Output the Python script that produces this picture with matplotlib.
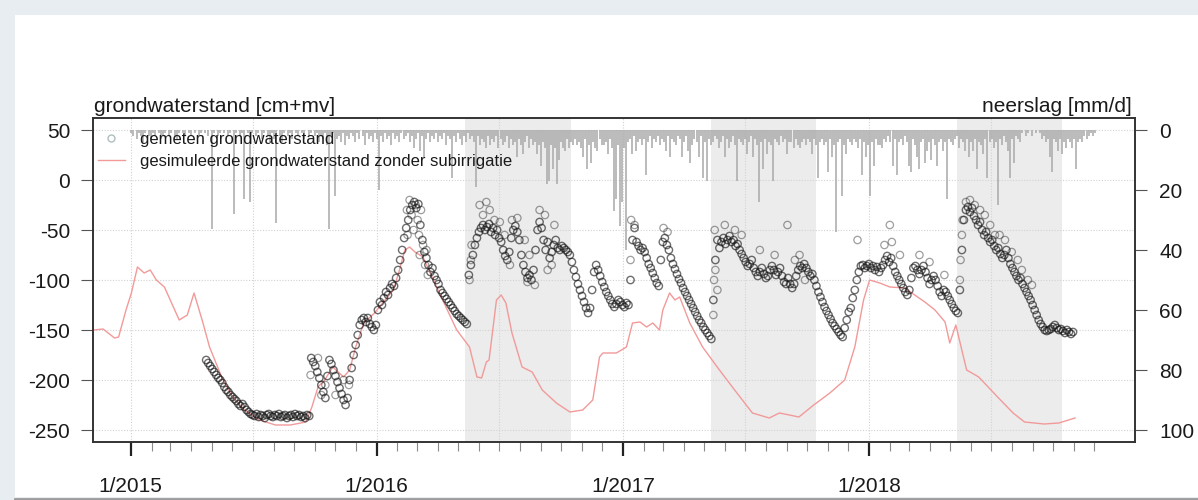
import matplotlib
matplotlib.use('Agg')
import matplotlib.pyplot as plt
import pandas as pd
from matplotlib.patches import Rectangle
from matplotlib.lines import Line2D

plt.rcParams['font.family'] = ['Liberation Sans', 'DejaVu Sans']
plt.rcParams['axes.unicode_minus'] = False

# ---------------- data ----------------
# simulated groundwater level without subirrigation (cm + mv)
sim_dates = ["2014-11-07", "2014-11-21", "2014-12-08", "2014-12-14", "2014-12-25",
             "2015-01-02", "2015-01-11", "2015-01-21", "2015-01-30", "2015-02-08",
             "2015-02-20", "2015-02-24", "2015-03-14", "2015-03-26", "2015-04-05",
             "2015-04-17", "2015-04-28", "2015-05-16", "2015-06-01", "2015-06-19",
             "2015-07-11", "2015-08-04", "2015-08-26", "2015-09-18", "2015-09-27",
             "2015-10-06", "2015-10-16", "2015-10-28", "2015-11-13", "2015-11-22",
             "2015-12-01", "2015-12-13", "2015-12-29", "2016-01-10", "2016-01-26",
             "2016-02-04", "2016-02-12", "2016-02-19", "2016-02-27", "2016-03-10",
             "2016-03-30", "2016-04-29", "2016-05-18", "2016-05-29", "2016-06-05",
             "2016-06-12", "2016-06-16", "2016-06-27", "2016-07-04", "2016-07-11",
             "2016-07-20", "2016-08-04", "2016-08-19", "2016-09-03", "2016-09-24",
             "2016-10-14", "2016-11-02", "2016-11-17", "2016-11-27", "2016-12-02",
             "2016-12-22", "2017-01-06", "2017-01-15", "2017-01-26", "2017-02-05",
             "2017-02-14", "2017-02-24", "2017-03-01", "2017-03-11", "2017-03-19",
             "2017-03-26", "2017-04-10", "2017-04-29", "2017-05-24", "2017-06-19",
             "2017-07-12", "2017-08-06", "2017-08-21", "2017-09-05", "2017-09-19",
             "2017-10-11", "2017-11-04", "2017-11-26", "2017-12-11", "2017-12-24",
             "2018-01-02", "2018-01-17", "2018-02-01", "2018-02-23", "2018-03-10",
             "2018-03-25", "2018-04-09", "2018-04-24", "2018-05-01", "2018-05-10",
             "2018-05-26", "2018-06-13", "2018-07-11", "2018-08-03", "2018-08-20",
             "2018-09-18", "2018-10-10", "2018-11-03"]
sim_values = [-150, -149, -158, -157, -130, -113, -87, -93, -90, -100,
              -107, -113, -140, -135, -113, -140, -167, -197, -217, -230,
              -240, -245, -245, -242, -227, -207, -200, -187, -197, -190,
              -167, -143, -133, -123, -110, -90, -70, -67, -72, -77,
              -107, -150, -167, -197, -198, -182, -180, -120, -115, -123,
              -153, -187, -192, -210, -223, -232, -230, -220, -177, -173,
              -173, -167, -143, -142, -147, -143, -150, -130, -113, -120,
              -117, -143, -167, -190, -213, -233, -238, -233, -235, -237,
              -225, -213, -200, -167, -120, -100, -103, -107, -108, -115,
              -122, -130, -142, -163, -145, -190, -197, -217, -233, -242,
              -244, -243, -238]

# measured groundwater level, one reading every 3 days per period
meas_step_days = 3
meas_a_start = "2015-04-23"
meas_a = [-180, -183, -186, -189, -192, -195, -198, -200, -203, -207,
          -210, -212, -215, -217, -219, -221, -224, -226, -224, -227,
          -230, -232, -234, -235, -236, -234, -237, -235, -236, -238,
          -235, -234, -236, -237, -235, -236, -234, -237, -236, -235,
          -238, -236, -235, -237, -234, -236, -235, -237, -236, -238,
          -235, -236]
meas_b_start = "2015-09-26"
meas_b = [-178, -182, -186, -192, -198, -205, -212, -218, -196, -180,
          -184, -190, -196, -202, -208, -214, -220, -225, -218, -200,
          -188, -175, -165, -155, -145, -140, -138, -142, -138, -144,
          -147, -150, -145, -130, -122, -125, -118, -112, -115, -108,
          -104, -106, -98, -90, -80, -70, -58, -48, -40, -30,
          -25, -22, -28, -24, -45, -60, -72, -78, -85, -92,
          -88, -96, -100, -104, -110, -113, -116, -119, -122, -125,
          -128, -131, -134, -136, -138, -140, -142, -144]
meas_c_start = "2016-05-17"
meas_c = [-95, -85, -75, -65, -58, -52, -48, -45, -50, -47,
          -44, -52, -48, -55, -50, -58, -62, -70, -76, -80,
          -72, -58, -50, -46, -52, -60, -75, -85, -92, -98,
          -95, -100, -90, -70, -50, -42, -48, -60, -70, -62,
          -78, -72, -65, -60, -68, -70, -66, -68, -70, -72,
          -75, -82, -90, -97, -104, -110, -116, -122, -128, -133,
          -128, -110, -92, -85, -90, -96, -102, -107, -112, -116,
          -120, -124, -127, -124, -120, -122, -125, -127, -123, -125]
meas_d_start = "2017-01-12"
meas_d = [-100, -60, -48, -62, -66, -70, -68, -72, -78, -84,
          -88, -93, -98, -103, -106, -80, -62, -58, -65, -70,
          -78, -84, -89, -94, -99, -103, -108, -112, -116, -120,
          -124, -128, -132, -136, -140, -143, -147, -150, -153, -156,
          -159]
meas_e_start = "2017-05-15"
meas_e = [-120, -80, -60, -68, -62, -58, -64, -60, -56, -62,
          -60, -66, -64, -70, -74, -78, -82, -86, -84, -80,
          -88, -92, -96, -92, -88, -94, -98, -96, -90, -86,
          -90, -95, -92, -88, -96, -102, -104, -98, -104, -108,
          -104, -96, -90, -86, -88, -84, -88, -92, -96, -94,
          -100, -106, -112, -117, -122, -127, -131, -135, -139, -143,
          -146, -149, -152, -155, -157, -148, -140, -132, -128, -118,
          -110, -100, -92, -86, -85, -88]
meas_f_start = "2017-12-29"
meas_f = [-86, -84, -88, -86, -90, -87, -92, -88, -85, -80,
          -76, -82, -78, -86, -92, -96, -100, -104, -108, -112,
          -115, -110, -98, -88, -86, -90, -94, -90, -86, -92,
          -98, -104, -100, -96, -100, -106, -112, -116, -110, -112,
          -116, -120, -124, -128, -131, -133]
meas_g_start = "2018-05-16"
meas_g = [-110, -70, -40, -30, -27, -32, -28, -36, -40, -45,
          -42, -50, -55, -52, -58, -62, -60, -66, -70, -68,
          -74, -78, -75, -70, -78, -84, -88, -92, -96, -100,
          -98, -104, -108, -112, -116, -120, -125, -130, -135, -140,
          -144, -147, -150, -151, -150, -149, -147, -145, -148, -150,
          -149, -151, -153, -150, -152, -154, -152]

# additional scattered measured readings
extra_dates = ["2016-02-15", "2016-02-16", "2016-02-19", "2016-02-22", "2016-02-25",
               "2016-02-28", "2016-03-02", "2016-03-04", "2016-03-05", "2016-03-07",
               "2016-03-10", "2016-03-13", "2016-03-15", "2016-03-17",
               "2015-09-25", "2015-10-06", "2015-10-11", "2015-10-17", "2015-11-01",
               "2015-11-13", "2015-11-21",
               "2016-05-18", "2016-05-20", "2016-05-21", "2016-06-02", "2016-06-07",
               "2016-06-12", "2016-06-17", "2016-06-24", "2016-07-02", "2016-07-09",
               "2016-07-17", "2016-07-20", "2016-07-28", "2016-08-08", "2016-08-12",
               "2016-08-15", "2016-08-23", "2016-08-30", "2016-09-07", "2016-09-11",
               "2016-09-17", "2016-09-21",
               "2017-01-12", "2017-01-13", "2017-01-18", "2017-03-02", "2017-03-08",
               "2017-05-15", "2017-05-16", "2017-05-17", "2017-05-18", "2017-05-21",
               "2017-06-01", "2017-06-16", "2017-06-26", "2017-07-23", "2017-08-14",
               "2017-09-02", "2017-09-13", "2017-09-20", "2017-09-28",
               "2017-12-15", "2018-01-24", "2018-02-01", "2018-02-04", "2018-02-16",
               "2018-03-17", "2018-04-01", "2018-04-23",
               "2018-05-16", "2018-05-17", "2018-05-19", "2018-05-20", "2018-05-25",
               "2018-05-31", "2018-06-07", "2018-06-15", "2018-06-22", "2018-06-30",
               "2018-07-07", "2018-07-14", "2018-07-22", "2018-08-01", "2018-08-10",
               "2018-08-16", "2018-08-25", "2018-08-31"]
extra_values = [-30, -55, -20, -35, -50,
                -25, -40, -55, -75, -30,
                -65, -85, -70, -95,
                -195, -178, -215, -205, -215,
                -200, -205,
                -100, -80, -65, -25, -35,
                -22, -30, -40, -42, -55,
                -85, -40, -38, -60, -102,
                -75, -105, -30, -35, -90,
                -85, -45,
                -80, -40, -45, -48, -52,
                -135, -100, -50, -90, -110,
                -45, -50, -55, -70, -75,
                -45, -80, -75, -100,
                -60, -65, -45, -62, -75,
                -75, -82, -95,
                -100, -80, -55, -40, -22,
                -20, -25, -30, -35, -45,
                -55, -55, -60, -72, -80,
                -90, -100, -105]

# precipitation (mm/d), one value every 3 days starting 2015-01-01
precip_start = "2015-01-01"
precip_step_days = 3
precip_2015 = [1, 2, 0, 3, 1, 2, 4, 1, 0, 2,
               3, 1, 2, 0, 1, 3, 2, 1, 0, 2,
               1, 0, 2, 3, 1, 0, 1, 2, 0, 1,
               2, 0, 1, 0, 2, 1, 0, 1, 2, 0,
               33, 1, 0, 2, 1, 0, 1, 0, 2, 1,
               0, 28, 1, 0, 2, 1, 23, 0, 1, 24,
               1, 0, 2, 1, 0, 3, 1, 0, 2, 4,
               1, 3, 31, 0, 2, 4, 1, 0, 2, 1,
               3, 0, 1, 2, 0, 1, 3, 0, 2, 1,
               0, 2, 1, 4, 2, 3, 1, 5, 33, 2,
               1, 22, 3, 2, 4, 1, 5, 2, 3, 1,
               2, 4, 1, 3, 0, 2, 5, 1, 3, 2,
               4, 1]
precip_2016 = [3, 20, 2, 4, 1, 3, 2, 5, 1, 3,
               2, 4, 1, 3, 2, 1, 4, 2, 6, 3,
               1, 7, 2, 9, 3, 1, 4, 2, 3, 1,
               4, 2, 3, 1, 5, 2, 3, 16, 2, 4,
               1, 3, 5, 2, 4, 1, 3, 2, 4, 19,
               2, 5, 3, 4, 6, 2, 5, 3, 4, 2,
               6, 3, 5, 4, 2, 6, 3, 5, 4, 9,
               3, 5, 8, 4, 2, 6, 3, 5, 4, 8,
               5, 12, 4, 6, 18, 17, 5, 13, 6, 18,
               10, 4, 6, 7, 3, 6, 4, 5, 3, 5,
               4, 6, 9, 3, 13, 5, 11, 4, 6, 7,
               3, 5, 5, 4, 8, 3, 6, 27, 23, 5,
               32, 24]
precip_2017 = [6, 40, 4, 3, 8, 2, 7, 4, 3, 5,
               3, 15, 4, 2, 6, 3, 4, 2, 5, 3,
               4, 7, 2, 9, 3, 4, 5, 2, 3, 9,
               4, 2, 7, 11, 5, 3, 4, 9, 2, 16,
               4, 17, 3, 5, 4, 2, 3, 6, 4, 2,
               9, 3, 6, 4, 2, 5, 17, 3, 4, 5,
               3, 8, 4, 2, 9, 3, 5, 24, 4, 13,
               3, 8, 4, 5, 17, 3, 4, 5, 2, 4,
               3, 8, 4, 4, 6, 3, 5, 6, 4, 3,
               5, 3, 4, 8, 3, 5, 16, 4, 3, 5,
               4, 14, 3, 9, 5, 34, 4, 3, 22, 5,
               8, 3, 4, 5, 3, 4, 6, 3, 15, 4,
               9, 5]
precip_2018 = [22, 4, 12, 3, 5, 5, 6, 3, 4, 2,
               4, 12, 3, 15, 4, 3, 5, 2, 4, 12,
               14, 3, 5, 9, 13, 4, 3, 11, 7, 4,
               10, 3, 5, 12, 4, 3, 7, 4, 23, 3,
               4, 5, 3, 2, 6, 3, 4, 7, 3, 9,
               4, 7, 3, 13, 4, 5, 8, 3, 16, 4,
               3, 6, 4, 25, 3, 5, 2, 4, 7, 16,
               3, 11, 2, 3, 4, 1, 0, 2, 1, 0,
               2, 0, 1, 0, 1, 3, 2, 4, 3, 9,
               14, 3, 4, 7, 3, 8, 4, 6, 3, 4,
               6, 3, 13, 4, 3, 4, 2, 3, 2, 1,
               2, 1]

# subirrigation periods (shaded)
irr_start = ["2016-05-12", "2017-05-12", "2018-05-12"]
irr_end = ["2016-10-15", "2017-10-15", "2018-10-15"]

# axis ticks
year_ticks = ["2015-01-01", "2016-01-01", "2017-01-01", "2018-01-01"]
year_labels = ["1/2015", "1/2016", "1/2017", "1/2018"]
month_first = "2015-01-01"
month_last = "2018-12-01"
vgrid_dates = ["2015-01-01", "2015-07-01", "2016-01-01", "2016-07-01",
               "2017-01-01", "2017-07-01", "2018-01-01", "2018-07-01"]
gw_ticks = [-250, -200, -150, -100, -50, 0, 50]
pr_ticks = [0, 20, 40, 60, 80, 100]

legend_labels = ["gemeten grondwaterstand",
                 "gesimuleerde grondwaterstand zonder subirrigatie"]

# ---------------- figure ----------------
W, H = 1198, 500
fig = plt.figure(figsize=(W / 100, H / 100), dpi=100, facecolor='#e8edf1')
fig.patches.append(Rectangle((15 / W, 3 / H), 1 - 15 / W, 1 - 3 / H - 15 / H,
                             transform=fig.transFigure, facecolor='white',
                             edgecolor='none', zorder=-10))
fig.add_artist(Line2D([15 / W, 1], [1.5 / H, 1.5 / H], transform=fig.transFigure,
                      color='#9a9a9a', lw=2))

ax = fig.add_axes([93 / W, 1 - 442 / H, (1135 - 93) / W, (442 - 118) / H])
ax.set_facecolor('white')

# shaded subirrigation periods
for s, e in zip(irr_start, irr_end):
    ax.axvspan(pd.Timestamp(s), pd.Timestamp(e), color='#ececec', lw=0, zorder=0)

# grid
for g in gw_ticks:
    ax.axhline(g, color='#d2d2d2', lw=0.8, ls=(0, (1, 1.5)), zorder=0.5)
for d in vgrid_dates:
    ax.axvline(pd.Timestamp(d), color='#d2d2d2', lw=0.8, ls=(0, (1, 1.5)), zorder=0.5)

# simulated line
ax.plot(pd.to_datetime(sim_dates), sim_values, color='#f29a9a', lw=1.0, zorder=2)

# measured points
periods = [(meas_a_start, meas_a), (meas_b_start, meas_b), (meas_c_start, meas_c),
           (meas_d_start, meas_d), (meas_e_start, meas_e), (meas_f_start, meas_f),
           (meas_g_start, meas_g)]
for start, vals in periods:
    dts = pd.date_range(start, periods=len(vals), freq=f'{meas_step_days}D')
    ax.scatter(dts, vals, s=28, facecolors='none',
               edgecolors=[(0.08, 0.08, 0.08, 0.62)], linewidths=1.0, zorder=3)
ax.scatter(pd.to_datetime(extra_dates), extra_values, s=28, facecolors='none',
           edgecolors=[(0.1, 0.1, 0.1, 0.42)], linewidths=0.9, zorder=3)

ax.set_xlim(pd.Timestamp('2014-11-06'), pd.Timestamp('2019-01-31'))
ax.set_ylim(-262, 62)
ax.set_yticks(gw_ticks)
ax.set_yticklabels([str(v) for v in gw_ticks])

ax.set_xticks(pd.to_datetime(year_ticks))
ax.set_xticklabels(year_labels)
ax.set_xticks(pd.date_range(month_first, month_last, freq='MS'), minor=True)

ax.tick_params(axis='y', direction='out', length=8.5, width=0.8, color='#555555',
               labelsize=15, pad=8, labelcolor='#1a1a1a')
ax.tick_params(axis='x', which='major', direction='out', length=10, width=1.6,
               color='#222222', labelsize=15, pad=15, labelcolor='#1a1a1a')
ax.tick_params(axis='x', which='minor', direction='out', length=6.5, width=0.8,
               color='#8a8a8a')
for sp in ax.spines.values():
    sp.set_color('#333333')
    sp.set_linewidth(1.2)

# precipitation on inverted secondary axis
ax2 = ax.twinx()
pr_vals = precip_2015 + precip_2016 + precip_2017 + precip_2018
pr_dates = pd.date_range(precip_start, periods=len(pr_vals), freq=f'{precip_step_days}D')
ax2.vlines(pr_dates, 0, pr_vals, color='#ababab', lw=1.15, zorder=1)
ax2.set_ylim(104, -4)
ax2.set_yticks(pr_ticks)
ax2.set_yticklabels([str(v) for v in pr_ticks])
ax2.tick_params(axis='y', direction='out', length=8.5, width=0.8, color='#555555',
                labelsize=15, pad=9, labelcolor='#1a1a1a')
for sp in ax2.spines.values():
    sp.set_color('#333333')
    sp.set_linewidth(1.2)

# axis titles
ax.annotate("grondwaterstand [cm+mv]", xy=(0, 1), xycoords='axes fraction',
            xytext=(1, 4.5), textcoords='offset points', ha='left', va='baseline',
            fontsize=15, color='#1a1a1a')
ax.annotate("neerslag [mm/d]", xy=(1, 1), xycoords='axes fraction',
            xytext=(-2, 4.5), textcoords='offset points', ha='right', va='baseline',
            fontsize=15, color='#1a1a1a')

# legend
h1 = Line2D([], [], marker='o', ls='none', mfc='none', mec=(0.3, 0.45, 0.45, 0.45),
            ms=5, mew=1)
h2 = Line2D([], [], color='#f29a9a', lw=1.0)
leg = ax2.legend([h1, h2], legend_labels, loc='upper left',
                 bbox_to_anchor=(98 / W, 1 - 132 / H), bbox_transform=fig.transFigure,
                 frameon=False, fontsize=12, handlelength=1.6, handletextpad=0.9,
                 labelspacing=0.4, borderpad=0, borderaxespad=0)
for t in leg.get_texts():
    t.set_color('#1a1a1a')

fig.savefig('out.png', dpi=100, facecolor=fig.get_facecolor())
